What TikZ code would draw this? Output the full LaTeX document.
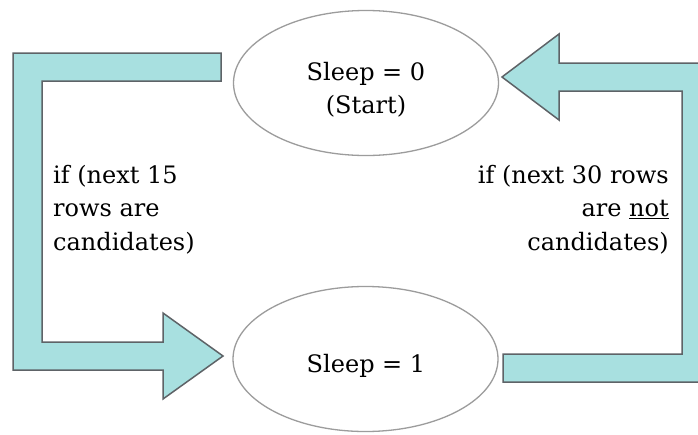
\documentclass[tikz,border=0pt]{standalone}
\usepackage{fontspec}
\setmainfont{DejaVu Serif}
\usetikzlibrary{shapes.geometric}
\definecolor{arrowfill}{HTML}{A8E0E0}
\definecolor{arrowline}{HTML}{5E6367}
\definecolor{ellline}{HTML}{9C9C9C}
\begin{document}
\begin{tikzpicture}[x=1pt,y=-1pt,
  state/.style={draw=ellline, line width=1.3pt, ellipse, inner sep=0pt,
    minimum width=265pt, minimum height=145pt},
  lbl/.style={inner sep=0pt, font=\fontsize{24}{33.5}\selectfont, text=black},
  blockarrow/.style={fill=arrowfill, draw=arrowline, line width=1.5pt, line join=miter}]
\clip (0,0) rectangle (698,434);
\useasboundingbox (0,0) rectangle (698,434);
\fill[white] (0,0) rectangle (698,434);
% states
\node[state] (s0) at (366,83) {};
\node[state] (s1) at (365.5,359) {};
\node[lbl, anchor=base] (s0a) at (366,80) {Sleep = 0};
\node[lbl, anchor=base] (s0b) at (366,113) {(Start)};
\node[lbl, anchor=base] (s1t) at (366,372) {Sleep = 1};
% left block arrow: s0 -> s1
\draw[blockarrow] (221,53) -- (13,53) -- (13,370) -- (163,370) -- (163,399)
  -- (223,356) -- (163,313) -- (163,342) -- (42,342) -- (42,81) -- (221,81) -- cycle;
% right block arrow: s1 -> s0
\draw[blockarrow] (503,354) -- (682,354) -- (682,91) -- (559,91) -- (559,120)
  -- (502,77) -- (559,34) -- (559,63) -- (712,63) -- (712,382) -- (503,382) -- cycle;
% labels
\node[lbl, anchor=base west, align=left] (l1) at (53,250)
  {if (next 15\\rows are\\candidates)};
\node[lbl, anchor=base east, align=right] (l2) at (669,250)
  {if (next 30 rows\\are \underline{not}\\candidates)};
\end{tikzpicture}
\end{document}
